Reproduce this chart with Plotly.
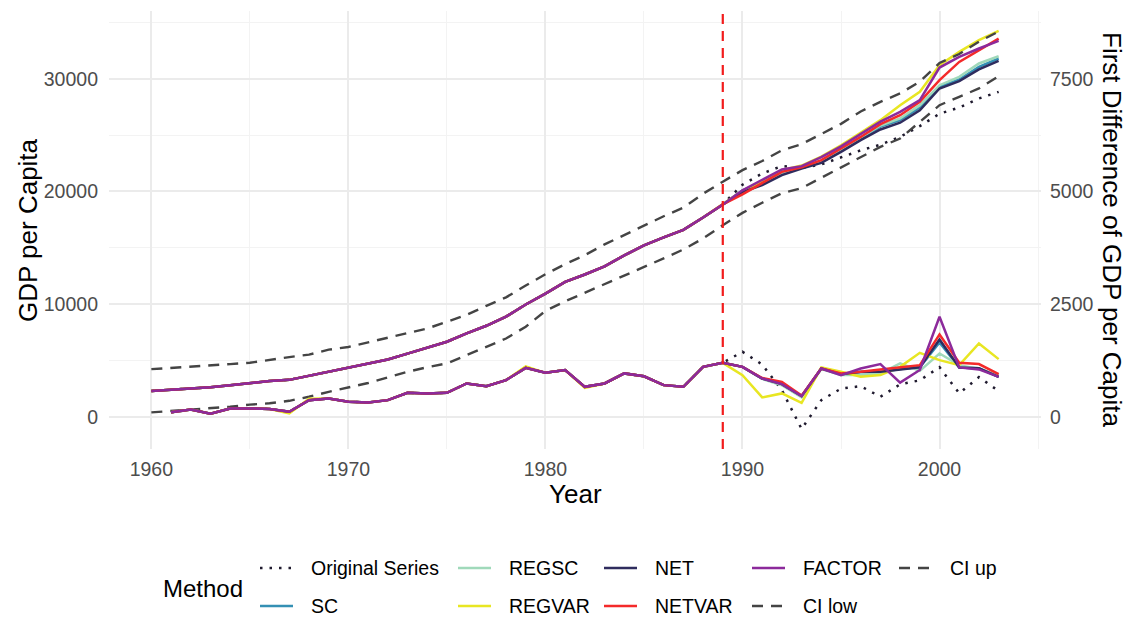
import plotly.graph_objects as go

# ---------------------------------------------------------------- data
years = list(range(1960, 2004))
fd_years = years[1:]
treatment_year = 1989

# GDP per capita 1960-1989: every method tracks the observed series here
level_pre = [2300, 2400, 2550, 2630, 2810, 2990, 3170, 3280, 3640, 4050,
             4390, 4710, 5080, 5610, 6130, 6660, 7400, 8080, 8890, 9970,
             10940, 11970, 12630, 13360, 14320, 15220, 15920, 16590, 17690, 18850]

# first differences 1961-1989
fd_pre = [100, 160, 70, 186, 186, 175, 111, 370, 408,
          333, 319, 370, 532, 519, 532, 740, 680, 814, 1087,
          976, 1036, 665, 740, 963, 900, 703, 666, 1109, 1198]
regvar_fd_pre = [100, 160, 70, 186, 186, 175, 75, 400, 408,
                 333, 319, 370, 532, 519, 532, 740, 680, 814, 1120,
                 976, 1036, 640, 740, 963, 900, 703, 666, 1109, 1198]

# levels 1990-2003
original_level_post = [20600, 21600, 22250, 22100, 22400, 23050, 23650, 24150, 24850, 25800, 26900, 27450, 28250, 28840]
sc_level_post = [20100, 20800, 21650, 22150, 22650, 23650, 24700, 25750, 26330, 27450, 29280, 29940, 31060, 31800]
regsc_level_post = [20050, 20750, 21650, 22150, 22700, 23700, 24800, 25850, 26480, 27660, 29430, 30170, 31360, 32000]
regvar_level_post = [20050, 20850, 21900, 22300, 23100, 24100, 25200, 26330, 27660, 28840, 31200, 32390, 33430, 34250]
net_level_post = [19950, 20560, 21450, 22040, 22540, 23510, 24550, 25500, 26100, 27210, 29140, 29790, 30830, 31590]
netvar_level_post = [19750, 20710, 21740, 22150, 22780, 23810, 24840, 25970, 26770, 27950, 29880, 31500, 32540, 33570]
factor_level_post = [20100, 21000, 21950, 22250, 23050, 24000, 25100, 26200, 27070, 28100, 31000, 31940, 32690, 33360]

# first differences 1990-2003
original_fd_post = [1442, 1160, 590, -270, 370, 625, 680, 444, 720, 810, 1100, 520, 880, 570]
sc_fd_post = [1109, 850, 725, 459, 1073, 947, 990, 990, 1060, 1100, 1650, 1096, 1080, 887]
regsc_fd_post = [1109, 840, 700, 430, 1060, 925, 925, 963, 1185, 1020, 1406, 1147, 1060, 920]
regvar_fd_post = [925, 430, 519, 310, 1096, 998, 887, 925, 1109, 1420, 1258, 1147, 1628, 1280]
net_fd_post = [1109, 850, 725, 459, 1073, 947, 998, 998, 1051, 1100, 1717, 1096, 1080, 887]
netvar_fd_post = [1109, 860, 776, 470, 1073, 963, 998, 1051, 1096, 1147, 1828, 1198, 1170, 947]
factor_fd_post = [1109, 850, 725, 459, 1073, 925, 1073, 1170, 760, 1040, 2219, 1096, 1051, 887]

# confidence band for the level, 1960-2003
ci_up = [4230, 4330, 4450, 4570, 4680, 4800, 5080, 5300, 5520, 5960,
         6200, 6600, 7020, 7450, 7840, 8430, 9050, 9850, 10600, 11650,
         12650, 13550, 14350, 15300, 16120, 17010, 17800, 18560, 19800, 20870,
         21890, 22700, 23650, 24200, 25100, 26000, 27100, 27950, 28700, 29750,
         31400, 32200, 33300, 34200]
ci_low = [390, 520, 640, 750, 900, 1080, 1200, 1420, 1780, 2220,
          2600, 3000, 3500, 4000, 4400, 4740, 5475, 6210, 6950, 8000,
          9400, 10250, 11000, 11750, 12500, 13250, 14060, 14850, 15830, 17010,
          18100, 19000, 19850, 20300, 21200, 22100, 23000, 23960, 24700, 26180,
          27660, 28400, 29140, 30230]

x_ticks = [1960, 1970, 1980, 1990, 2000]
y_ticks = [0, 10000, 20000, 30000]
y2_ticks = [0, 2500, 5000, 7500]
sec_scale = 4  # right axis = left axis / 4

# --------------------------------------------------------------- styles
FONT = "Liberation Sans, Arial, sans-serif"
CI_COLOR = "#444444"
LW = 2.5
styles = {
    "Original Series": dict(color="#1f1a2e", dash="2.5px,7px", width=2.5),
    "SC": dict(color="#3490b4", dash="solid", width=LW),
    "REGSC": dict(color="#a0d9ba", dash="solid", width=LW),
    "REGVAR": dict(color="#e8e622", dash="solid", width=LW),
    "NET": dict(color="#2f2c5e", dash="solid", width=LW),
    "NETVAR": dict(color="#f42a2a", dash="solid", width=LW),
    "FACTOR": dict(color="#8c2a9b", dash="solid", width=LW),
    "CI low": dict(color=CI_COLOR, dash="11px,8px", width=2.4),
    "CI up": dict(color=CI_COLOR, dash="11px,8px", width=2.4),
}

series = [
    ("Original Series", level_pre + original_level_post, fd_pre + original_fd_post),
    ("SC", level_pre + sc_level_post, fd_pre + sc_fd_post),
    ("REGSC", level_pre + regsc_level_post, fd_pre + regsc_fd_post),
    ("REGVAR", level_pre + regvar_level_post, regvar_fd_pre + regvar_fd_post),
    ("NET", level_pre + net_level_post, fd_pre + net_fd_post),
    ("NETVAR", level_pre + netvar_level_post, fd_pre + netvar_fd_post),
    ("FACTOR", level_pre + factor_level_post, fd_pre + factor_fd_post),
]

fig = go.Figure()

for name, lev, fd in series:
    st = styles[name]
    fig.add_trace(go.Scatter(x=years, y=lev, mode="lines", name=name, showlegend=False,
                             line=dict(color=st["color"], dash=st["dash"], width=st["width"])))

for name, vals in [("CI low", ci_low), ("CI up", ci_up)]:
    st = styles[name]
    fig.add_trace(go.Scatter(x=years, y=vals, mode="lines", name=name, showlegend=False,
                             line=dict(color=st["color"], dash=st["dash"], width=st["width"])))

for name, lev, fd in series:
    st = styles[name]
    fig.add_trace(go.Scatter(x=fd_years, y=fd, mode="lines", name=name, showlegend=False,
                             yaxis="y2",
                             line=dict(color=st["color"], dash=st["dash"], width=st["width"])))

# --------------------------------------------------------------- layout
W, H = 1130, 619
L, R, T, B = 109, 89, 11, 170
PW, PH = W - L - R, H - T - B


def px(x):
    return (x - L) / PW


def py(y):
    return (H - B - y) / PH


y_lo, y_hi = -2857, 36017
grid_major = "#EBEBEB"
grid_minor = "#F3F3F3"
tick_font = dict(family=FONT, size=19.5, color="#4D4D4D")

fig.update_layout(
    width=W, height=H,
    margin=dict(l=L, r=R, t=T, b=B, autoexpand=False),
    paper_bgcolor="white", plot_bgcolor="white",
    font=dict(family=FONT),
    xaxis=dict(range=[1957.85, 2005.15], tickvals=x_ticks, showline=False, zeroline=False,
               ticks="", showgrid=True, gridcolor=grid_major, gridwidth=1.7,
               minor=dict(dtick=5, tick0=1960, showgrid=True, gridcolor=grid_minor, gridwidth=1),
               tickfont=tick_font, ticklabelstandoff=6),
    yaxis=dict(range=[y_lo, y_hi], tickvals=y_ticks, showline=False, zeroline=False,
               ticks="", showgrid=True, gridcolor=grid_major, gridwidth=1.7,
               minor=dict(dtick=5000, tick0=0, showgrid=True, gridcolor=grid_minor, gridwidth=1),
               tickfont=tick_font, ticklabelstandoff=10, tickformat="d"),
    yaxis2=dict(range=[y_lo / sec_scale, y_hi / sec_scale], tickvals=y2_ticks, overlaying="y",
                side="right", showgrid=False, zeroline=False, showline=False, ticks="",
                tickfont=tick_font, ticklabelstandoff=8, tickformat="d"),
)

# treatment date
fig.add_shape(type="line", xref="x", yref="paper", x0=treatment_year, x1=treatment_year,
              y0=0, y1=1, layer="above",
              line=dict(color="#f21c1c", width=2.2, dash="10px,7px"))

title_font = dict(family=FONT, size=26, color="black")
fig.add_annotation(text="Year", xref="paper", yref="paper", x=0.5, y=py(494),
                   showarrow=False, font=title_font, xanchor="center", yanchor="middle")
fig.add_annotation(text="GDP per Capita", xref="paper", yref="paper", x=px(28), y=0.5,
                   showarrow=False, font=title_font, textangle=-90,
                   xanchor="center", yanchor="middle")
fig.add_annotation(text="First Difference of GDP per Capita", xref="paper", yref="paper",
                   x=px(1112), y=0.5, showarrow=False, font=title_font, textangle=90,
                   xanchor="center", yanchor="middle")

# legend, two rows filled column by column
fig.add_annotation(text="Method", xref="paper", yref="paper", x=px(161), y=py(588),
                   showarrow=False, font=dict(family=FONT, size=24, color="black"),
                   xanchor="left", yanchor="middle")
legend_order = ["Original Series", "SC", "REGSC", "REGVAR", "NET", "NETVAR",
                "FACTOR", "CI low", "CI up"]
col_x = [260, 458, 604, 752, 899]
row_y = [568, 606]
key_len = 33
for i, name in enumerate(legend_order):
    c, r = divmod(i, 2)
    x0, y0 = col_x[c], row_y[r]
    st = styles[name]
    fig.add_shape(type="line", xref="paper", yref="paper", x0=px(x0), x1=px(x0 + key_len),
                  y0=py(y0), y1=py(y0),
                  line=dict(color=st["color"], dash=st["dash"], width=st["width"]))
    fig.add_annotation(text=name, xref="paper", yref="paper", x=px(x0 + key_len + 16), y=py(y0),
                       showarrow=False, font=dict(family=FONT, size=19.5, color="black"),
                       xanchor="left", yanchor="middle")

fig.write_html("out.html")
